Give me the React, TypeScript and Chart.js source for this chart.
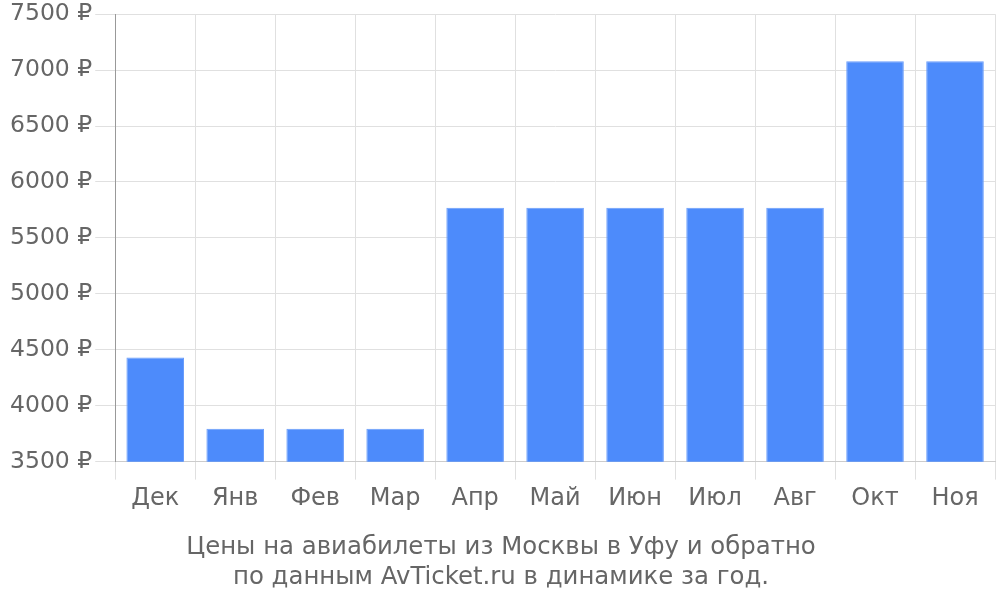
import React, { useEffect, useRef } from "react";
import { Chart, registerables } from "chart.js";

Chart.register(...registerables);

const months = ["Дек", "Янв", "Фев", "Мар", "Апр", "Май", "Июн", "Июл", "Авг", "Окт", "Ноя"];
const prices = [4430, 3795, 3795, 3795, 5770, 5770, 5770, 5770, 5770, 7080, 7080];
const titleLines = ["Цены на авиабилеты из Москвы в Уфу и обратно", "по данным AvTicket.ru в динамике за год."];
const yMin = 3500;
const yMax = 7500;
const yStep = 500;

export default function App() {
  const ref = useRef<HTMLCanvasElement>(null);
  useEffect(() => {
    if (!ref.current) return;
    const font = "'DejaVu Sans', sans-serif";
    const chart = new Chart(ref.current, {
      type: "bar",
      data: {
        labels: months,
        datasets: [
          {
            data: prices,
            backgroundColor: "#4d8bfb",
            borderColor: "#6a9dfb",
            borderWidth: 1,
            barPercentage: 0.9,
            categoryPercentage: 0.8,
          },
        ],
      },
      options: {
        animation: false,
        responsive: true,
        maintainAspectRatio: false,
        layout: { padding: { top: 0, right: 5, left: 7, bottom: 0 } },
        plugins: {
          legend: { display: false },
          tooltip: { enabled: false },
          title: {
            display: true,
            position: "bottom",
            text: titleLines,
            color: "#666",
            font: { family: font, size: 24.4, weight: "normal" },
            padding: { top: 15, bottom: 8 },
            lineHeight: 1.15,
          },
        },
        scales: {
          x: {
            grid: { color: "#e0e0e0", tickLength: 18, offset: true },
            border: { color: "#ccc" },
            ticks: { color: "#666", font: { family: font, size: 24 }, padding: 5 },
          },
          y: {
            min: yMin,
            max: yMax,
            grid: { color: "#e0e0e0", tickLength: 20 },
            border: { color: "#999" },
            ticks: {
              stepSize: yStep,
              color: "#666",
              font: { family: font, size: 23.5, lineHeight: 0.95 },
              padding: 3,
              callback: (v: any) => `${v} ₽`,
            },
          },
        },
      },
    });
    return () => chart.destroy();
  }, []);
  return (
    <div style={{ position: "fixed", left: 0, top: 0, width: 1000, height: 600 }}>
      <canvas ref={ref} />
    </div>
  );
}
